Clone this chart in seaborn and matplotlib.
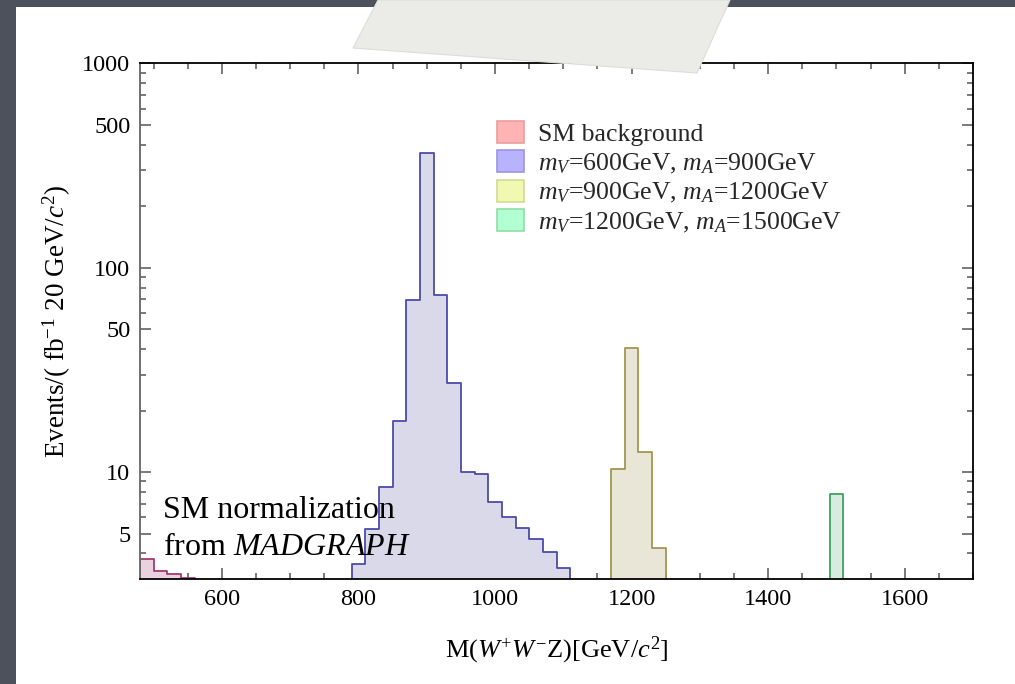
import numpy as np
import pandas as pd
import matplotlib
matplotlib.use("Agg")
import matplotlib.pyplot as plt
import seaborn as sns
from matplotlib.patches import Patch, Rectangle, Polygon
from matplotlib.ticker import FixedLocator, NullFormatter, FixedFormatter

# ---------------- data (bin width 20 GeV) ----------------
bin_width = 20
sm_start = 480
sm_values = [3.74, 3.29, 3.17, 3.04]
v600_start = 790
v600_values = [3.54, 5.25, 8.49, 17.8, 69.3, 363.0, 73.8, 27.2, 10.0, 9.8,
               7.12, 6.05, 5.31, 4.69, 4.05, 3.40]
v900_start = 1170
v900_values = [10.3, 40.6, 12.6, 4.27]
v1200_start = 1490
v1200_values = [7.81]

legend_labels = ["SM background",
                 r"$m_V$=600GeV, $m_A$=900GeV",
                 r"$m_V$=900GeV, $m_A$=1200GeV",
                 r"$m_V$=1200GeV, $m_A$=1500GeV"]
x_ticks_major = [600, 800, 1000, 1200, 1400, 1600]
y_ticks_major = [5, 10, 50, 100, 500, 1000]
y_tick_labels = ["5", "10", "50", "100", "500", "1000"]

# ---------------- style ----------------
sns.set_theme(style="white")
plt.rcParams["font.family"] = ["Liberation Serif", "DejaVu Serif"]
plt.rcParams["mathtext.fontset"] = "custom"
plt.rcParams["mathtext.rm"] = "Liberation Serif"
plt.rcParams["mathtext.it"] = "Liberation Serif:italic"
plt.rcParams["mathtext.bf"] = "Liberation Serif:bold"

W, H = 1015, 684
fig = plt.figure(figsize=(W / 100, H / 100), dpi=100)
fig.patch.set_facecolor("#4d515b")

# white slide panel
fig.add_artist(Rectangle((16 / W, 0), 1 - 16 / W, 1 - 7 / H, transform=fig.transFigure,
                         facecolor="white", edgecolor="none", zorder=-5))

ax = fig.add_axes([140 / W, 1 - 579 / H, (973 - 140) / W, (579 - 63.3) / H])
ax.set_facecolor("white")

series = [
    (sm_start, sm_values, "#e9d2de", "#a23a74"),
    (v600_start, v600_values, "#d9d9ea", "#4b4ba8"),
    (v900_start, v900_values, "#e9e5d7", "#a19650"),
    (v1200_start, v1200_values, "#d7ebdf", "#3fa25e"),
]
for start, vals, fc, ec in series:
    edges = [float(start + bin_width * i) for i in range(len(vals) + 1)]
    centers = [e + bin_width / 2 for e in edges[:-1]]
    df = pd.DataFrame({"x": centers, "w": vals})
    sns.histplot(data=df, x="x", weights="w", bins=edges, element="step", fill=True,
                 facecolor=fc, edgecolor=ec, linewidth=1.3, alpha=1, ax=ax,
                 legend=False)

ax.set_yscale("log")
ax.set_xlim(480, 1700)
ax.set_ylim(3, 1000)

# ticks
ax.xaxis.set_major_locator(FixedLocator(x_ticks_major))
ax.xaxis.set_minor_locator(FixedLocator([v for v in range(500, 1701, 50) if v % 200 != 0]))
ax.set_xticklabels([str(v) for v in x_ticks_major])
ax.yaxis.set_major_locator(FixedLocator(y_ticks_major))
ax.yaxis.set_major_formatter(FixedFormatter(y_tick_labels))
minor_y = [m * d for d in (1, 10, 100) for m in range(2, 10)]
minor_y = [v for v in minor_y if v >= 4 and v not in y_ticks_major]
ax.yaxis.set_minor_locator(FixedLocator(minor_y))
ax.yaxis.set_minor_formatter(NullFormatter())

ax.tick_params(which="both", direction="in", top=True, right=True, bottom=True, left=True,
               color="#555555", width=1.1, labelsize=17.5, labelcolor="black")
ax.tick_params(which="major", length=8)
ax.tick_params(which="minor", length=4.5)
ax.tick_params(axis="x", which="major", pad=7)
ax.tick_params(axis="y", which="major", pad=7)

for s in ["top", "right", "bottom"]:
    ax.spines[s].set_color("black")
    ax.spines[s].set_linewidth(1.3)
ax.spines["left"].set_color("#666666")
ax.spines["left"].set_linewidth(1.3)

ax.set_ylabel(r"Events/( fb$^{-1}$ 20 GeV/$c^2$)", fontsize=19.5, color="black")
ax.yaxis.set_label_coords(-0.080, 0.5)
ax.set_xlabel(r"M($W^{+}W^{-}$Z)[GeV/$c^{2}$]", fontsize=19, color="black")
ax.xaxis.set_label_coords(0.5, -0.138)
ax.xaxis.label.set_va("center")

# annotation
ax.text(0.0276, 0.118, "SM normalization", transform=ax.transAxes, fontsize=23,
        va="baseline", ha="left", color="black")
ax.text(0.0276, 0.0465, r"from $\mathit{MADGRAPH}$", transform=ax.transAxes, fontsize=23,
        va="baseline", ha="left", color="black")

# legend
leg_face = ["#ffb3b3", "#b9b3ff", "#f1f8b2", "#b2ffd2"]
leg_edge = ["#e99d9d", "#9c95e2", "#d3da92", "#92dba9"]
handles = [Patch(facecolor=f, edgecolor=e, linewidth=1.2) for f, e in zip(leg_face, leg_edge)]
fig.legend(handles, legend_labels, loc="upper left",
           bbox_to_anchor=(497 / W, 1 - 121 / H), bbox_transform=fig.transFigure,
           frameon=False, fontsize=18.5, handlelength=1.05, handleheight=0.95,
           handletextpad=0.55, labelspacing=0.16, borderpad=0, borderaxespad=0)

# paper strip on top
pts = [(378, 0), (730, 0), (697, 73), (353, 48)]
fig.add_artist(Polygon([(x / W, 1 - y / H) for x, y in pts], closed=True,
                       transform=fig.transFigure, facecolor="#ebebe7",
                       edgecolor="#dcdcd8", linewidth=0.8, zorder=10))

fig.savefig("out.png", dpi=100, facecolor=fig.get_facecolor())
